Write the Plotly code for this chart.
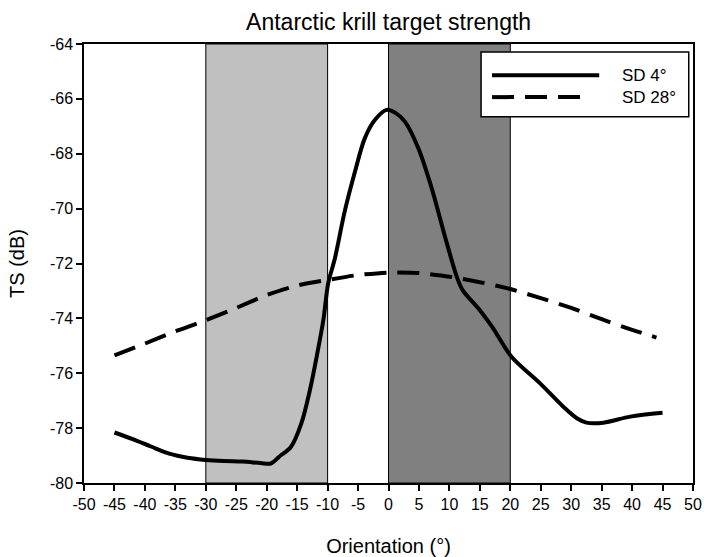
import plotly.graph_objects as go

# Orientation angles (degrees) and target strength (dB) for each distribution
sd4_orient = [-45, -42, -39, -36, -33, -30, -27, -24, -21, -19.3, -18, -16, -14.3,
              -12.9, -11.8, -10.7, -9.9, -8.8, -7.2, -5.5, -3.9, -2.25, -0.3, 1.2,
              2.7, 4.9, 7.1, 9.2, 11.3, 12.2, 15, 17, 20.2, 24.9, 28.7, 31, 32.5,
              35.3, 39.7, 45]
sd4_ts = [-78.16, -78.40, -78.67, -78.93, -79.08, -79.16, -79.20, -79.22, -79.27,
          -79.29, -79.05, -78.68, -77.82, -76.61, -75.40, -74.06, -72.72, -71.81,
          -70.11, -68.65, -67.44, -66.77, -66.40, -66.52, -66.83, -67.80, -69.26,
          -70.96, -72.54, -72.98, -73.70, -74.30, -75.40, -76.37, -77.22, -77.65,
          -77.80, -77.80, -77.58, -77.44]

sd28_orient = [-45, -40, -35, -30, -25, -20, -15, -10, -5, 0, 5, 10, 15, 20, 25,
               30, 35, 40, 44]
sd28_ts = [-75.35, -74.92, -74.47, -74.07, -73.62, -73.15, -72.80, -72.60, -72.42,
           -72.33, -72.35, -72.48, -72.68, -72.93, -73.26, -73.62, -74.03, -74.42,
           -74.70]

# Shaded orientation bands: (start, end, fill colour)
bands = [(-30, -10, "#c0c0c0"), (0, 20, "#808080")]

# Tick positions and labels (plain hyphen minus signs)
x_ticks = list(range(-50, 51, 5))
x_ticklabels = [str(v) for v in x_ticks]
y_ticks = list(range(-80, -63, 2))
y_ticklabels = [str(v) for v in y_ticks]

legend_labels = ["SD 4°", "SD 28°"]

FONT = "Liberation Sans, Arial, sans-serif"
DASH = "22px,11px"

fig = go.Figure()

for x0, x1, col in bands:
    fig.add_shape(type="rect", xref="x", yref="y", x0=x0, x1=x1, y0=-80, y1=-64,
                  fillcolor=col, line=dict(color="black", width=1), layer="below")

fig.add_trace(go.Scatter(x=sd4_orient, y=sd4_ts, mode="lines", name=legend_labels[0],
                         line=dict(color="black", width=4, shape="spline", smoothing=0.9),
                         showlegend=False))
fig.add_trace(go.Scatter(x=sd28_orient, y=sd28_ts, mode="lines", name=legend_labels[1],
                         line=dict(color="black", width=4, dash=DASH, shape="spline",
                                   smoothing=0.6),
                         showlegend=False))

# Boxed legend in the upper right corner
fig.add_shape(type="rect", xref="paper", yref="paper", x0=0.652, x1=0.993,
              y0=0.834, y1=0.982, fillcolor="white", line=dict(color="black", width=1.5))
fig.add_shape(type="line", xref="paper", yref="paper", x0=0.670, x1=0.846,
              y0=0.929, y1=0.929, line=dict(color="black", width=4))
fig.add_shape(type="line", xref="paper", yref="paper", x0=0.670, x1=0.830,
              y0=0.879, y1=0.879, line=dict(color="black", width=4, dash=DASH))
for lbl, yy in zip(legend_labels, [0.929, 0.879]):
    fig.add_annotation(xref="paper", yref="paper", x=0.880, y=yy, text=lbl,
                       showarrow=False, xanchor="left", yanchor="middle",
                       font=dict(family=FONT, size=17, color="black"))

axis_common = dict(showline=True, mirror=True, linecolor="black", linewidth=1.5,
                   ticks="outside", ticklen=6, tickwidth=1.5, tickcolor="black",
                   showgrid=False, zeroline=False, tickmode="array", automargin=False,
                   tickfont=dict(family=FONT, size=16, color="black"))

fig.update_layout(
    width=704, height=557,
    margin=dict(l=84, r=11, t=44, b=74),
    paper_bgcolor="white", plot_bgcolor="white",
    title=dict(text="Antarctic krill target strength", x=0.552, xanchor="center",
               y=0.96, yanchor="middle",
               font=dict(family=FONT, size=23, color="black")),
    xaxis=dict(range=[-50, 50], tickvals=x_ticks, ticktext=x_ticklabels,
               title=dict(text="Orientation (°)", standoff=28,
                          font=dict(family=FONT, size=20, color="black")),
               **axis_common),
    yaxis=dict(range=[-80, -64], tickvals=y_ticks, ticktext=y_ticklabels,
               title=dict(text="TS (dB)", standoff=20,
                          font=dict(family=FONT, size=20, color="black")),
               **axis_common),
)

fig.write_html("out.html")
